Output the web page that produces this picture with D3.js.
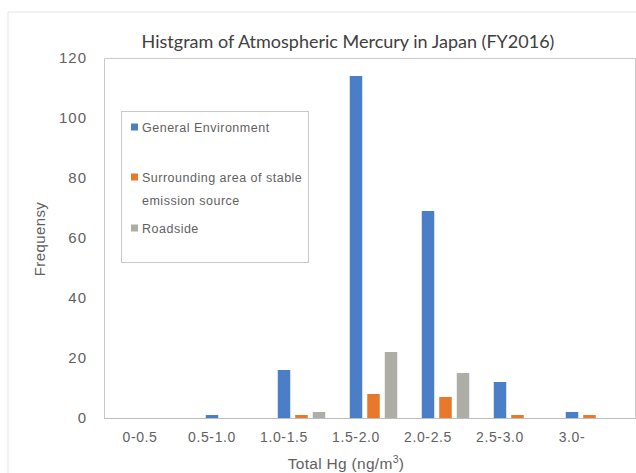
<!DOCTYPE html>
<html>
<head>
<meta charset="utf-8">
<script src="https://cdn.jsdelivr.net/npm/d3@7"></script>
<style>
  body { margin: 0; background: #fff; }
  text { font-family: "Liberation Sans", Arial, sans-serif; }
</style>
</head>
<body>
<div id="chart"></div>
<script>
// Data
var categories = ["0-0.5", "0.5-1.0", "1.0-1.5", "1.5-2.0", "2.0-2.5", "2.5-3.0", "3.0-"];
var seriesNames = ["General Environment", "Surrounding area of stable emission source", "Roadside"];
var generalEnv = [0, 1, 16, 114, 69, 12, 2];
var stableSource = [0, 0, 1, 8, 7, 1, 1];
var roadside = [0, 0, 2, 22, 15, 0, 0];
var yTicks = [0, 20, 40, 60, 80, 100, 120];

var W = 636, H = 473;
var margin = {top: 58, left: 104, bottom: 55};
var plotRight = 608;   // end of the last category band
var frameRight = 635;  // the plot frame runs to the right edge

var colors = ["#4a7ec6", "#e8792a", "#aeaea6"];
var textColor = "#5f5f5f";
var values = [generalEnv, stableSource, roadside];

var svg = d3.select("#chart").append("svg")
  .attr("width", W)
  .attr("height", H);

// faint outer chart border
svg.append("path")
  .attr("d", "M8," + H + "V12H" + W)
  .attr("fill", "none")
  .attr("stroke", "#e4e4e4")
  .attr("stroke-width", 1);

var y = d3.scaleLinear()
  .domain([0, 120])
  .range([418, margin.top]);

var x = d3.scaleBand()
  .domain(categories)
  .range([margin.left, plotRight]);

// bars inside a category: blue sits on the category centre
var step = 17.5, bw = 12.5;
var xs = d3.scaleBand()
  .domain(d3.range(seriesNames.length))
  .range([-step / 2, -step / 2 + step * seriesNames.length])
  .paddingInner((step - bw) / step)
  .paddingOuter((step - bw) / step / 2);

// plot frame
svg.append("path")
  .attr("d", "M" + (frameRight + 0.5) + "," + y(0) + "V" + (y(120) + 0.5) + "H" + (margin.left + 0.5) + "V" + y(0))
  .attr("fill", "none")
  .attr("stroke", "#c8c8c8")
  .attr("stroke-width", 1);

// bars
var groups = svg.append("g").selectAll("g")
  .data(values)
  .enter().append("g")
  .attr("fill", function(d, i) { return colors[i]; });

groups.selectAll("rect")
  .data(function(d, i) { return d.map(function(v, j) { return {s: i, c: categories[j], v: v}; }); })
  .enter().append("rect")
  .filter(function(d) { return d.v > 0; })
  .attr("x", function(d) { return x(d.c) + x.bandwidth() / 2 + xs(d.s); })
  .attr("y", function(d) { return y(d.v); })
  .attr("width", xs.bandwidth())
  .attr("height", function(d) { return y(0) - y(d.v); });

// baseline
svg.append("line")
  .attr("x1", margin.left).attr("x2", W)
  .attr("y1", y(0) + 0.5).attr("y2", y(0) + 0.5)
  .attr("stroke", "#bdbdbd");

// y axis labels
var yAxis = svg.append("g")
  .attr("transform", "translate(" + (margin.left - 17) + ",0)")
  .call(d3.axisLeft(y).tickValues(yTicks).tickSize(0).tickPadding(0));
yAxis.select(".domain").remove();
yAxis.selectAll("text")
  .attr("fill", textColor)
  .style("font-size", "15px")
  .style("letter-spacing", "1px");

// x axis labels
var xAxis = svg.append("g")
  .attr("transform", "translate(0," + y(0) + ")")
  .call(d3.axisBottom(x).tickSize(0).tickPadding(14));
xAxis.select(".domain").remove();
xAxis.selectAll("text")
  .attr("fill", textColor)
  .style("font-size", "14px")
  .style("letter-spacing", "0.6px");

// title
svg.append("text")
  .attr("x", 348)
  .attr("y", 48)
  .attr("text-anchor", "middle")
  .attr("fill", "#404040")
  .style("font-family", "Lato, 'Open Sans', sans-serif")
  .style("font-size", "18px")
  .text("Histgram of Atmospheric Mercury in Japan (FY2016)");

// axis titles
svg.append("text")
  .attr("transform", "rotate(-90)")
  .attr("x", -239)
  .attr("y", 45)
  .attr("text-anchor", "middle")
  .attr("fill", textColor)
  .style("font-size", "15px")
  .style("letter-spacing", "0.4px")
  .text("Frequensy");

var xt = svg.append("text")
  .attr("x", 346)
  .attr("y", 469)
  .attr("text-anchor", "middle")
  .attr("fill", textColor)
  .style("font-size", "15.5px")
  .style("letter-spacing", "0.3px");
xt.append("tspan").text("Total Hg (ng/m");
xt.append("tspan").attr("dy", -6).style("font-size", "10.5px").text("3");
xt.append("tspan").attr("dy", 6).text(")");

// legend
var legend = svg.append("g").attr("transform", "translate(121,111)");
legend.append("rect")
  .attr("x", 0.5).attr("y", 0.5)
  .attr("width", 187).attr("height", 151)
  .attr("fill", "#fff")
  .attr("stroke", "#c8c8c8");

var legendRows = [
  {s: 0, lines: ["General Environment"], y: 16},
  {s: 1, lines: ["Surrounding area of stable", "emission source"], y: 66},
  {s: 2, lines: ["Roadside"], y: 117}
];
legendRows.forEach(function(r) {
  legend.append("rect")
    .attr("x", 10).attr("y", r.y - 3.5)
    .attr("width", 7).attr("height", 7)
    .attr("fill", colors[r.s]);
  r.lines.forEach(function(line, k) {
    legend.append("text")
      .attr("x", 21)
      .attr("y", r.y + 4.5 + k * 23)
      .attr("fill", textColor)
      .style("font-size", "12.5px")
      .style("letter-spacing", "0.5px")
      .text(line);
  });
});
</script>
</body>
</html>
